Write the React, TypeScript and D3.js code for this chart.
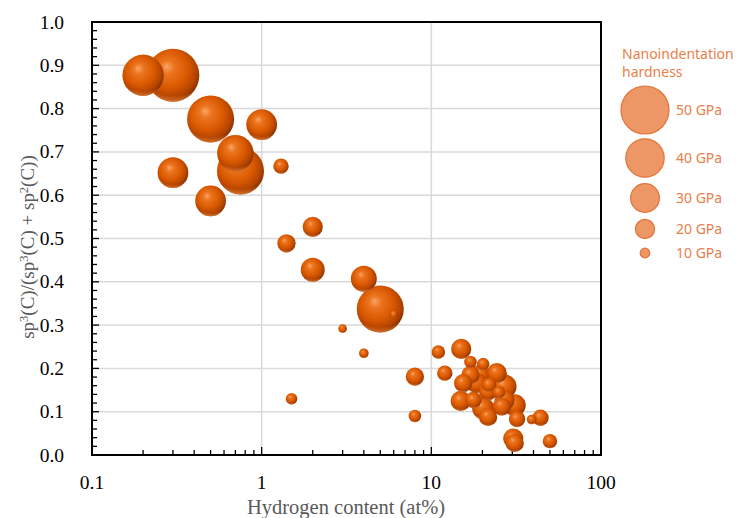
import React from "react";
import * as d3 from "d3";

const hydrogen = [0.2, 0.3, 0.5, 1.0, 0.7, 0.75, 0.3, 1.3, 0.5, 2.0, 1.4, 2.0, 4.0, 5.0, 6.0, 3.0, 4.0, 11.0, 12.0, 8.0, 1.5, 8.0,
  15.0, 17.0, 20.2, 17.0, 19.3, 24.3, 15.4, 18.5, 21.9, 27.0, 25.0, 21.6, 14.9, 17.7, 20.2, 27.0, 26.0, 31.0, 21.6, 32.0, 39.0, 44.0, 30.4, 31.0, 50.0];
const sp3Fraction = [0.877, 0.877, 0.776, 0.763, 0.697, 0.656, 0.652, 0.667, 0.587, 0.527, 0.489, 0.428, 0.407, 0.337, 0.325, 0.292, 0.235, 0.238, 0.189, 0.181, 0.130, 0.090,
  0.245, 0.215, 0.210, 0.185, 0.185, 0.189, 0.166, 0.166, 0.162, 0.158, 0.145, 0.147, 0.125, 0.127, 0.108, 0.127, 0.112, 0.115, 0.088, 0.083, 0.082, 0.086, 0.038, 0.028, 0.032];
const hardness = [43, 55, 49, 32, 38, 49, 32, 16, 32, 21, 19, 25, 27, 49, 8, 9, 10, 14, 16, 19, 12, 13,
  21, 13, 13, 19, 21, 21, 19, 21, 15, 25, 13, 19, 21, 17, 23, 21, 19, 23, 19, 17, 10, 17, 21, 19, 15];

const xTicks = [0.1, 1, 10, 100];
const xTickLabels = ["0.1", "1", "10", "100"];
const yTicks = [0, 0.1, 0.2, 0.3, 0.4, 0.5, 0.6, 0.7, 0.8, 0.9, 1.0];
const legendValues = [50, 40, 30, 20, 10];
const legendLabels = ["50 GPa", "40 GPa", "30 GPa", "20 GPa", "10 GPa"];

const L = 92, T = 22, R = 601, B = 455;

export default function App() {
  const x = d3.scaleLog().domain([0.1, 100]).range([L, R]);
  const y = d3.scaleLinear().domain([0, 1]).range([B, T]);
  const r = d3.scaleLinear().domain([0, 50]).range([0, 24]);

  const points = hydrogen.map((h, i) => ({ h, s: sp3Fraction[i], hd: hardness[i] }))
    .sort((a, b) => b.hd - a.hd);

  const minorX: number[] = [];
  for (let dec = 0.1; dec < 100; dec *= 10) {
    for (let k = 2; k <= 9; k++) minorX.push(dec * k);
  }
  const minorY = d3.range(0, 51).map((i) => i * 0.02);

  const serif = "'Liberation Serif', serif";
  const sans = "'Noto Sans', sans-serif";
  const legendY = [110, 158, 198, 229, 253];

  return (
    <svg width={737} height={518} style={{ display: "block", position: "absolute", left: 0, top: 0 }}>
      <defs>
        <radialGradient id="ball" cx="0.45" cy="0.42" r="0.6" fx="0.38" fy="0.33">
          <stop offset="0" stopColor="#f9a468" />
          <stop offset="0.22" stopColor="#ec741e" />
          <stop offset="0.6" stopColor="#d85800" />
          <stop offset="0.85" stopColor="#b24300" />
          <stop offset="1" stopColor="#7a2c00" />
        </radialGradient>
        <radialGradient id="rim" cx="0.5" cy="0.05" r="0.98">
          <stop offset="0.85" stopColor="#ff8a3a" stopOpacity="0" />
          <stop offset="1" stopColor="#ff9a50" stopOpacity="0.85" />
        </radialGradient>
      </defs>
      <rect x={0} y={0} width={737} height={518} fill="#ffffff" />
      {yTicks.slice(1, -1).map((t) => (
        <line key={"gy" + t} x1={L} x2={R} y1={y(t)} y2={y(t)} stroke="#d9d9d9" strokeWidth={1.5} />
      ))}
      {xTicks.slice(1, -1).map((t) => (
        <line key={"gx" + t} x1={x(t)} x2={x(t)} y1={T} y2={B} stroke="#d9d9d9" strokeWidth={1.5} />
      ))}
      {minorY.map((t, i) => (
        <line key={"ty" + i} x1={L} x2={L + (i % 5 === 0 ? 7 : 5)} y1={y(t)} y2={y(t)} stroke="#000" strokeWidth={1.3} />
      ))}
      {minorX.map((t, i) => (
        <line key={"tx" + i} x1={x(t)} x2={x(t)} y1={B} y2={B - 5} stroke="#000" strokeWidth={1.3} />
      ))}
      {xTicks.map((t) => (
        <line key={"txm" + t} x1={x(t)} x2={x(t)} y1={B} y2={B - 8} stroke="#000" strokeWidth={1.3} />
      ))}
      {points.map((p, i) => (
        <g key={"b" + i}>
          <circle cx={x(p.h)} cy={y(p.s)} r={r(p.hd)} fill="url(#ball)" />
          <circle cx={x(p.h)} cy={y(p.s)} r={r(p.hd)} fill="url(#rim)" />
        </g>
      ))}
      <rect x={L} y={T} width={R - L} height={B - T} fill="none" stroke="#000" strokeWidth={2} />
      {yTicks.map((t) => (
        <text key={"ly" + t} x={64} y={y(t) + 6.5} textAnchor="end" fontFamily={serif} fontSize={19.5} fill="#000">
          {t.toFixed(1)}
        </text>
      ))}
      {xTicks.map((t, i) => (
        <text key={"lx" + t} x={x(t)} y={489} textAnchor="middle" fontFamily={serif} fontSize={19.5} fill="#000">
          {xTickLabels[i]}
        </text>
      ))}
      <text x={346} y={514} textAnchor="middle" fontFamily={serif} fontSize={20.5} fill="#595959">
        Hydrogen content (at%)
      </text>
      <text transform="translate(34,247) rotate(-90)" textAnchor="middle" fontFamily={serif} fontSize={19} fill="#595959">
        sp<tspan dy={-6} fontSize={12.5}>3</tspan><tspan dy={6}>(C)/(sp</tspan><tspan dy={-6} fontSize={12.5}>3</tspan><tspan dy={6}>(C) + sp</tspan><tspan dy={-6} fontSize={12.5}>2</tspan><tspan dy={6}>(C))</tspan>
      </text>
      <text x={622} y={59} fontFamily={sans} fontSize={14} fill="#e8804a">Nanoindentation</text>
      <text x={622} y={77} fontFamily={sans} fontSize={14} fill="#e8804a">hardness</text>
      {legendValues.map((v, i) => (
        <g key={"lg" + v}>
          <circle cx={645} cy={legendY[i]} r={r(v)} fill="#ed9766" stroke="#e0733a" strokeWidth={1.2} />
          <text x={676} y={legendY[i] + 5} fontFamily={sans} fontSize={14} fill="#e8804a">{legendLabels[i]}</text>
        </g>
      ))}
    </svg>
  );
}
